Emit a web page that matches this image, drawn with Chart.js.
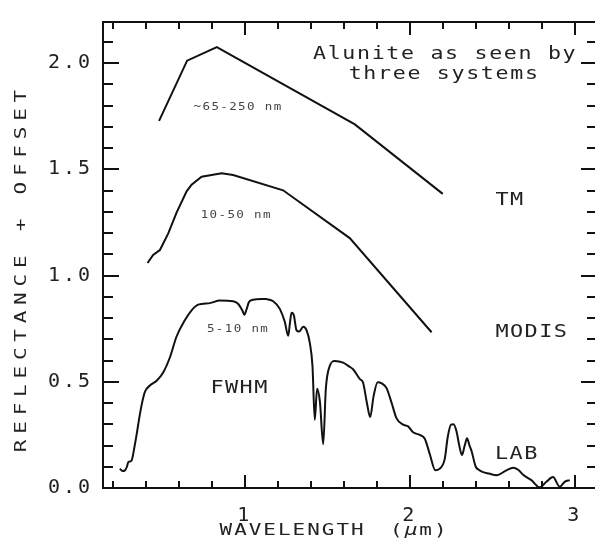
<!DOCTYPE html>
<html lang="en">
<head>
<meta charset="UTF-8">
<title>Alunite as seen by three systems</title>
<script src="https://cdn.jsdelivr.net/npm/chart.js"></script>
<style>
    html, body { margin: 0; padding: 0; background: #fff; overflow: hidden; }
    #wrap { width: 620px; height: 548px; }
</style>
</head>
<body>
<div id="wrap"><canvas id="grafico" width="620" height="548"></canvas></div>
<script>
    // TM (broad bands)
    const tmWave = [0.48, 0.65, 0.83, 1.667, 2.20];
    const tmRefl = [1.728, 2.011, 2.075, 1.711, 1.384];

    // MODIS
    const modisWave = [0.410, 0.444, 0.485, 0.535, 0.586, 0.647, 0.677, 0.738, 0.859, 0.929, 1.232, 1.636, 2.132];
    const modisRefl = [1.059, 1.097, 1.120, 1.197, 1.296, 1.396, 1.427, 1.465, 1.481, 1.473, 1.401, 1.176, 0.733];

    // laboratory spectrum
    const labWave = [0.242, 0.258, 0.273, 0.285, 0.293, 0.313, 0.330, 0.344, 0.360, 0.374,
        0.394, 0.424, 0.465, 0.505, 0.545, 0.586, 0.636, 0.677, 0.717, 0.788,
        0.848, 0.929, 0.960, 0.985, 0.997, 1.010, 1.025, 1.050, 1.100, 1.131,
        1.172, 1.212, 1.242, 1.263, 1.273, 1.283, 1.297, 1.313, 1.329, 1.354,
        1.374, 1.394, 1.410, 1.424, 1.438, 1.455, 1.475, 1.491, 1.515, 1.545,
        1.596, 1.636, 1.656, 1.697, 1.717, 1.740, 1.760, 1.780, 1.805, 1.830,
        1.859, 1.890, 1.919, 1.960, 1.990, 2.020, 2.060, 2.091, 2.121, 2.155,
        2.180, 2.212, 2.230, 2.250, 2.265, 2.283, 2.300, 2.316, 2.333, 2.347,
        2.362, 2.374, 2.400, 2.420, 2.444, 2.480, 2.525, 2.586, 2.626, 2.657,
        2.687, 2.737, 2.788, 2.828, 2.868, 2.909, 2.939, 2.970];
    const labRefl = [0.091, 0.080, 0.083, 0.100, 0.121, 0.129, 0.190, 0.252, 0.330, 0.390,
        0.452, 0.482, 0.505, 0.544, 0.613, 0.713, 0.789, 0.836, 0.863, 0.870,
        0.882, 0.879, 0.866, 0.835, 0.815, 0.840, 0.875, 0.886, 0.890, 0.889,
        0.879, 0.843, 0.782, 0.716, 0.774, 0.825, 0.813, 0.743, 0.736, 0.759,
        0.743, 0.682, 0.575, 0.321, 0.467, 0.406, 0.206, 0.467, 0.575, 0.598,
        0.590, 0.570, 0.559, 0.513, 0.495, 0.400, 0.334, 0.430, 0.498, 0.492,
        0.470, 0.400, 0.329, 0.298, 0.290, 0.262, 0.250, 0.232, 0.160, 0.083,
        0.090, 0.137, 0.240, 0.298, 0.300, 0.267, 0.200, 0.155, 0.200, 0.234,
        0.200, 0.175, 0.100, 0.085, 0.075, 0.068, 0.060, 0.083, 0.095, 0.086,
        0.062, 0.037, 0.003, 0.029, 0.052, 0.006, 0.029, 0.037];

    // text placed on the plot (data coordinates)
    const notes = [
        { text: 'Alunite as seen by', x: 2.209, y: 2.041, size: 18, spacing: 1.4, stretch: 1.2, color: '#222' },
        { text: 'three systems', x: 2.203, y: 1.945, size: 18, spacing: 1.4, stretch: 1.2, color: '#222' },
        { text: '~65-250 nm', x: 0.955, y: 1.793, size: 10, spacing: 1.1, stretch: 1.25, color: '#444' },
        { text: '10-50 nm', x: 0.944, y: 1.281, size: 10, spacing: 1.1, stretch: 1.25, color: '#444' },
        { text: '5-10 nm', x: 0.955, y: 0.747, size: 10, spacing: 1.1, stretch: 1.25, color: '#444' },
        { text: 'FWHM', x: 0.964, y: 0.470, size: 17.5, spacing: 1.1, stretch: 1.25, color: '#222' },
        { text: 'TM', x: 2.603, y: 1.353, size: 17.5, spacing: 1.1, stretch: 1.25, color: '#222' },
        { text: 'MODIS', x: 2.736, y: 0.731, size: 17.5, spacing: 1.1, stretch: 1.25, color: '#222' },
        { text: 'LAB', x: 2.645, y: 0.160, size: 17.5, spacing: 1.1, stretch: 1.25, color: '#222' }
    ];

    const FONTE = '"DejaVu Sans Mono", monospace';

    function pontos(xs, ys) {
        return xs.map((v, i) => ({ x: v, y: ys[i] }));
    }

    function serie(label, xs, ys, modo) {
        return {
            label: label,
            data: pontos(xs, ys),
            showLine: true,
            borderColor: '#111',
            borderWidth: 2,
            pointRadius: 0,
            fill: false,
            tension: modo ? 0.4 : 0,
            cubicInterpolationMode: modo || 'default'
        };
    }

    function inteiro(v) {
        return Math.abs(v - Math.round(v)) < 1e-6;
    }

    function meio(v) {
        return Math.abs(v * 2 - Math.round(v * 2)) < 1e-6;
    }

    // centred text, stretched sideways like the old plotter font
    function textoEspacado(ctx, partes, cx, cy, espaco, k) {
        ctx.save();
        ctx.translate(cx, cy);
        ctx.scale(k, 1);
        ctx.letterSpacing = espaco + 'px';
        let total = 0;
        partes.forEach(p => {
            ctx.font = p.font;
            p.w = ctx.measureText(p.t).width;
            total += p.w + (p.dx || 0);
        });
        let x = -(total - espaco) / 2;
        ctx.textAlign = 'left';
        ctx.textBaseline = 'middle';
        partes.forEach(p => {
            x += p.dx || 0;
            ctx.font = p.font;
            ctx.fillText(p.t, x, 0);
            x += p.w;
        });
        ctx.restore();
    }

    const moldura = {
        id: 'moldura',
        beforeDraw(chart) {
            chart.ctx.letterSpacing = '3px';
        },
        afterDraw(chart) {
            const { ctx, chartArea: a, scales: { x, y } } = chart;
            ctx.save();
            ctx.letterSpacing = '0px';
            ctx.strokeStyle = '#111';
            ctx.lineWidth = 2;
            ctx.lineCap = 'butt';
            ctx.strokeRect(a.left, a.top, a.right - a.left, a.bottom - a.top);

            ctx.beginPath();
            x.ticks.forEach(t => {
                const px = Math.round(x.getPixelForValue(t.value));
                const len = inteiro(t.value) ? 13 : 7;
                ctx.moveTo(px, a.bottom); ctx.lineTo(px, a.bottom - len);
                ctx.moveTo(px, a.top); ctx.lineTo(px, a.top + len);
            });
            y.ticks.forEach(t => {
                const py = Math.round(y.getPixelForValue(t.value));
                const len = meio(t.value) ? 16 : 10;
                ctx.moveTo(a.left, py); ctx.lineTo(a.left + len, py);
                ctx.moveTo(a.right, py); ctx.lineTo(a.right - len, py);
            });
            ctx.stroke();

            // notes
            notes.forEach(n => {
                ctx.fillStyle = n.color;
                textoEspacado(ctx, [{ t: n.text, font: n.size + 'px ' + FONTE }],
                    x.getPixelForValue(n.x), y.getPixelForValue(n.y), n.spacing, n.stretch);
            });

            // axis titles
            ctx.fillStyle = '#222';
            const fx = '15.5px ' + FONTE;
            textoEspacado(ctx, [
                { t: 'WAVELENGTH', font: fx },
                { t: '(', font: fx, dx: 18 },
                { t: 'μ', font: 'italic ' + fx },
                { t: 'm)', font: fx }
            ], 333, 531, 1.5, 1.35);

            ctx.save();
            ctx.translate(22, 271);
            ctx.rotate(-Math.PI / 2);
            textoEspacado(ctx, [{ t: 'REFLECTANCE + OFFSET', font: fx }], 0, 0, 4.3, 1.35);
            ctx.restore();

            ctx.restore();
        }
    };

    const grafico = new Chart(document.getElementById('grafico'), {
        type: 'scatter',
        data: {
            datasets: [
                serie('TM', tmWave, tmRefl),
                serie('MODIS', modisWave, modisRefl),
                serie('LAB', labWave, labRefl, 'monotone')
            ]
        },
        options: {
            responsive: false,
            animation: false,
            devicePixelRatio: 1,
            layout: { padding: { left: 0, right: 23, top: 12, bottom: 0 } },
            plugins: {
                legend: { display: false },
                tooltip: { enabled: false }
            },
            scales: {
                x: {
                    type: 'linear',
                    min: 0.14,
                    max: 3.135,
                    grid: { display: false, drawTicks: false },
                    border: { display: false },
                    afterFit: s => { s.height = 60; },
                    ticks: {
                        stepSize: 0.2,
                        includeBounds: false,
                        autoSkip: false,
                        maxRotation: 0,
                        padding: 16,
                        color: '#222',
                        font: { family: 'DejaVu Sans Mono', size: 20 },
                        callback: v => inteiro(v) ? String(Math.round(v)) : ''
                    }
                },
                y: {
                    type: 'linear',
                    min: 0,
                    max: 2.193,
                    grid: { display: false, drawTicks: false },
                    border: { display: false },
                    afterFit: s => { s.width = 103; },
                    ticks: {
                        stepSize: 0.1,
                        includeBounds: false,
                        autoSkip: false,
                        padding: 10,
                        color: '#222',
                        font: { family: 'DejaVu Sans Mono', size: 20 },
                        callback: v => meio(v) ? v.toFixed(1) : ''
                    }
                }
            }
        },
        plugins: [moldura]
    });
</script>
</body>
</html>
